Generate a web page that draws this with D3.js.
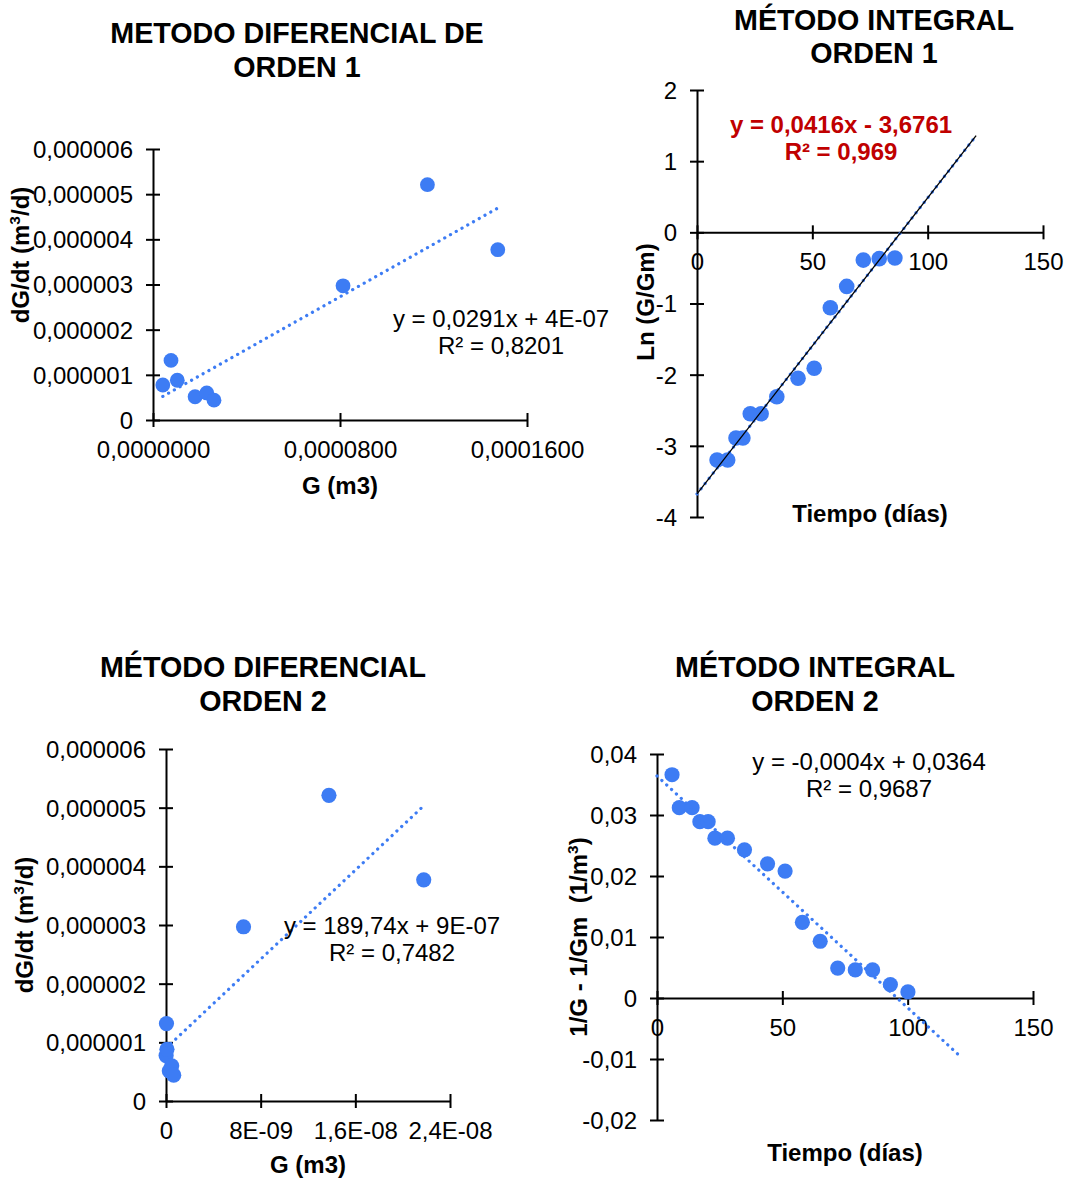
<!DOCTYPE html>
<html>
<head>
<meta charset="utf-8">
<script src="https://cdn.jsdelivr.net/npm/d3@7"></script>
<style>
  body { margin: 0; background: #fff; }
  svg { display: block; font-family: "Liberation Sans", Arial, Helvetica, sans-serif; }
</style>
</head>
<body>
<svg id="chart" width="1065" height="1178"></svg>
<script>
// ---------------- data ----------------
// Differential method: consumption rate dG/dt (m3/d), shared by both orders
const rate = [0.775e-6, 1.32e-6, 0.88e-6, 0.515e-6, 0.60e-6, 0.44e-6, 2.97e-6, 5.21e-6, 3.77e-6];
// Order 1: G (m3)
const gOrder1 = [4.2e-6, 7.7e-6, 10.4e-6, 18.0e-6, 23.0e-6, 26.1e-6, 81.3e-6, 117.4e-6, 147.5e-6];
// Order 2: G (m3) axis values
const gOrder2 = [0.01e-9, 0.04e-9, 0.08e-9, 0.28e-9, 0.48e-9, 0.65e-9, 6.55e-9, 13.77e-9, 21.78e-9];

// Integral method, order 1: time (days) vs Ln(G/Gm)
const daysOrder1 = [8.7, 13.3, 16.9, 19.9, 23.1, 27.8, 34.6, 43.8, 50.8, 57.8, 64.9, 72.1, 79.0, 85.8];
const lnRatio = [-3.20, -3.20, -2.89, -2.89, -2.55, -2.55, -2.31, -2.05, -1.91, -1.06, -0.76, -0.39, -0.37, -0.36];

// Integral method, order 2: time (days) vs 1/G - 1/Gm
const daysOrder2 = [6.0, 8.9, 14.0, 17.1, 20.4, 23.1, 28.1, 34.9, 44.1, 51.1, 58.0, 65.1, 72.1, 79.1, 86.0, 93.1, 100.1];
const invDiff = [0.0366, 0.0312, 0.0312, 0.0289, 0.0289, 0.0262, 0.0262, 0.0243, 0.0220, 0.0208, 0.0124, 0.0093, 0.0049, 0.0046, 0.0046, 0.0022, 0.0010];

// Linear trend lines: [slope, intercept] and x extent
const trendDiff1 = [0.0291, 4e-7];
const trendDiff1Extent = [4.2e-6, 147.5e-6];
const trendDiff2 = [189.74, 9e-7];
const trendDiff2Extent = [0.01e-9, 21.78e-9];
const trendInt1 = [0.0416, -3.6761];
const trendInt1Extent = [0, 121];
const trendInt2 = [-0.00038, 0.0364];
const trendInt2Extent = [0, 120];

// Trend equation labels
const eqDiff1 = ["y = 0,0291x + 4E-07", "R² = 0,8201"];
const eqDiff2 = ["y = 189,74x + 9E-07", "R² = 0,7482"];
const eqInt1 = ["y = 0,0416x - 3,6761", "R² = 0,969"];
const eqInt2 = ["y = -0,0004x + 0,0364", "R² = 0,9687"];

// Ticks
const rateTicks = [0, 1e-6, 2e-6, 3e-6, 4e-6, 5e-6, 6e-6];
const rateTickLabels = ["0", "0,000001", "0,000002", "0,000003", "0,000004", "0,000005", "0,000006"];
const g1Ticks = [0, 0.00008, 0.00016];
const g1TickLabels = ["0,0000000", "0,0000800", "0,0001600"];
const g2Ticks = [0, 8e-9, 1.6e-8, 2.4e-8];
const g2TickLabels = ["0", "8E-09", "1,6E-08", "2,4E-08"];
const lnTicks = [-4, -3, -2, -1, 0, 1, 2];
const lnTickLabels = ["-4", "-3", "-2", "-1", "0", "1", "2"];
const dayTicks = [0, 50, 100, 150];
const dayTickLabels = ["0", "50", "100", "150"];
const invTicks = [-0.02, -0.01, 0, 0.01, 0.02, 0.03, 0.04];
const invTickLabels = ["-0,02", "-0,01", "0", "0,01", "0,02", "0,03", "0,04"];

// Titles
const titleDiff1 = ["METODO DIFERENCIAL DE", "ORDEN 1"];
const titleInt1 = ["MÉTODO INTEGRAL", "ORDEN 1"];
const titleDiff2 = ["MÉTODO DIFERENCIAL", "ORDEN 2"];
const titleInt2 = ["MÉTODO INTEGRAL", "ORDEN 2"];

// ---------------- drawing ----------------
const BLUE = "#3d7cf4";
const TICK = 7;
const FS = 24;
const svg = d3.select("#chart");
svg.append("rect").attr("width", 1065).attr("height", 1178).attr("fill", "#fff");

function drawPanel(c) {
  const g = svg.append("g");
  const x = d3.scaleLinear().domain(c.xDomain).range([c.left, c.right]);
  const y = d3.scaleLinear().domain(c.yDomain).range([c.bottom, c.top]);

  // title
  const t = g.append("text").attr("text-anchor", "middle")
    .attr("font-weight", "bold").attr("font-size", 28.7).attr("fill", "#000");
  c.title.forEach((s, i) => t.append("tspan").attr("x", c.titleX).attr("y", c.titleY[i]).text(s));

  // y axis (crosses at x = 0)
  const yAxis = d3.axisLeft(y).tickValues(c.yTicks)
    .tickFormat((d, i) => c.yTickLabels[i]).tickSizeInner(TICK).tickSizeOuter(0).tickPadding(14);
  const gy = g.append("g").attr("transform", `translate(${x(0)},0)`).call(yAxis)
    .attr("font-size", null).attr("font-family", null);
  gy.selectAll(".tick line").attr("x1", TICK).attr("x2", -TICK).attr("stroke", "#000").attr("stroke-width", 2);
  gy.selectAll(".tick text").attr("font-size", FS).attr("fill", "#000").attr("x", -20).attr("dy", "0.35em");

  // x axis (crosses at y = 0)
  const xAxis = d3.axisBottom(x).tickValues(c.xTicks)
    .tickFormat((d, i) => c.xTickLabels[i]).tickSizeInner(TICK).tickSizeOuter(0);
  const gx = g.append("g").attr("transform", `translate(0,${y(0)})`).call(xAxis)
    .attr("font-size", null).attr("font-family", null);
  gx.selectAll(".tick line").attr("y1", -TICK).attr("y2", TICK).attr("stroke", "#000").attr("stroke-width", 2);
  gx.selectAll(".tick text").attr("font-size", FS).attr("fill", "#000").attr("y", 37.5).attr("dy", 0);

  [gx, gy].forEach(a => a.select(".domain").attr("stroke", "#000").attr("stroke-width", 2));

  // axis titles
  g.append("text").attr("x", c.xTitle[0]).attr("y", c.xTitle[1]).attr("text-anchor", "middle")
    .attr("font-weight", "bold").attr("font-size", FS).attr("fill", "#000").text(c.xLabel);
  const yl = g.append("text")
    .attr("transform", `translate(${c.yTitle[0]},${c.yTitle[1]}) rotate(-90)`)
    .attr("text-anchor", "middle").attr("font-weight", "bold").attr("font-size", FS)
    .attr("fill", "#000").style("white-space", "pre");
  c.yLabel.forEach(part => {
    const ts = yl.append("tspan").text(part.text);
    if (part.sup) ts.attr("font-size", 15.5).attr("dy", -9);
    else if (part.after) ts.attr("dy", 9);
  });

  // points
  g.append("g").selectAll("circle").data(c.xs.map((v, i) => [v, c.ys[i]])).join("circle")
    .attr("cx", d => x(d[0])).attr("cy", d => y(d[1])).attr("r", c.r).attr("fill", BLUE);

  // trend line
  const [m, b] = c.trend;
  const pts = c.trendExtent.map(v => [x(v), y(m * v + b)]);
  const line = d3.line();
  g.append("path").attr("d", line(pts)).attr("fill", "none").attr("stroke", BLUE)
    .attr("stroke-width", 3.2).attr("stroke-linecap", "round").attr("stroke-dasharray", "0.1 6.5");
  if (c.solidTrend) {
    g.append("path").attr("d", line(pts)).attr("fill", "none").attr("stroke", "#000").attr("stroke-width", 1.3);
  }

  // equation label
  const eq = g.append("text").attr("text-anchor", "middle").attr("font-size", FS)
    .attr("fill", c.eqColor || "#000").attr("font-weight", c.eqBold ? "bold" : "normal");
  c.eq.forEach((s, i) => eq.append("tspan").attr("x", c.eqPos[0]).attr("y", c.eqPos[1] + i * 27).text(s));
}

const rateLabel = [{text: "dG/dt (m"}, {text: "3", sup: true}, {text: "/d)", after: true}];

drawPanel({
  title: titleDiff1, titleX: 297, titleY: [43, 77],
  left: 153, right: 527, top: 149, bottom: 420,
  xDomain: [0, 0.00016], yDomain: [0, 6e-6],
  xTicks: g1Ticks, xTickLabels: g1TickLabels, yTicks: rateTicks, yTickLabels: rateTickLabels,
  xLabel: "G (m3)", xTitle: [340, 494], yLabel: rateLabel, yTitle: [29, 255],
  xs: gOrder1, ys: rate, r: 7.4,
  trend: trendDiff1, trendExtent: trendDiff1Extent,
  eq: eqDiff1, eqPos: [501, 327]
});

drawPanel({
  title: titleInt1, titleX: 874, titleY: [30, 63],
  left: 697, right: 1043, top: 90, bottom: 517,
  xDomain: [0, 150], yDomain: [-4, 2],
  xTicks: dayTicks, xTickLabels: dayTickLabels, yTicks: lnTicks, yTickLabels: lnTickLabels,
  xLabel: "Tiempo (días)", xTitle: [870, 522], yLabel: [{text: "Ln (G/Gm)"}], yTitle: [654, 302],
  xs: daysOrder1, ys: lnRatio, r: 7.8,
  trend: trendInt1, trendExtent: trendInt1Extent, solidTrend: true,
  eq: eqInt1, eqPos: [841, 133], eqColor: "#c00000", eqBold: true
});

drawPanel({
  title: titleDiff2, titleX: 263, titleY: [677, 711],
  left: 166, right: 450, top: 749, bottom: 1101,
  xDomain: [0, 2.4e-8], yDomain: [0, 6e-6],
  xTicks: g2Ticks, xTickLabels: g2TickLabels, yTicks: rateTicks, yTickLabels: rateTickLabels,
  xLabel: "G (m3)", xTitle: [308, 1173], yLabel: rateLabel, yTitle: [33, 925],
  xs: gOrder2, ys: rate, r: 7.6,
  trend: trendDiff2, trendExtent: trendDiff2Extent,
  eq: eqDiff2, eqPos: [392, 934]
});

drawPanel({
  title: titleInt2, titleX: 815, titleY: [677, 711],
  left: 657, right: 1033, top: 754, bottom: 1120,
  xDomain: [0, 150], yDomain: [-0.02, 0.04],
  xTicks: dayTicks, xTickLabels: dayTickLabels, yTicks: invTicks, yTickLabels: invTickLabels,
  xLabel: "Tiempo (días)", xTitle: [845, 1161],
  yLabel: [{text: "1/G - 1/Gm  (1/m"}, {text: "3", sup: true}, {text: ")", after: true}], yTitle: [587, 937],
  xs: daysOrder2, ys: invDiff, r: 7.6,
  trend: trendInt2, trendExtent: trendInt2Extent,
  eq: eqInt2, eqPos: [869, 770]
});
</script>
</body>
</html>
